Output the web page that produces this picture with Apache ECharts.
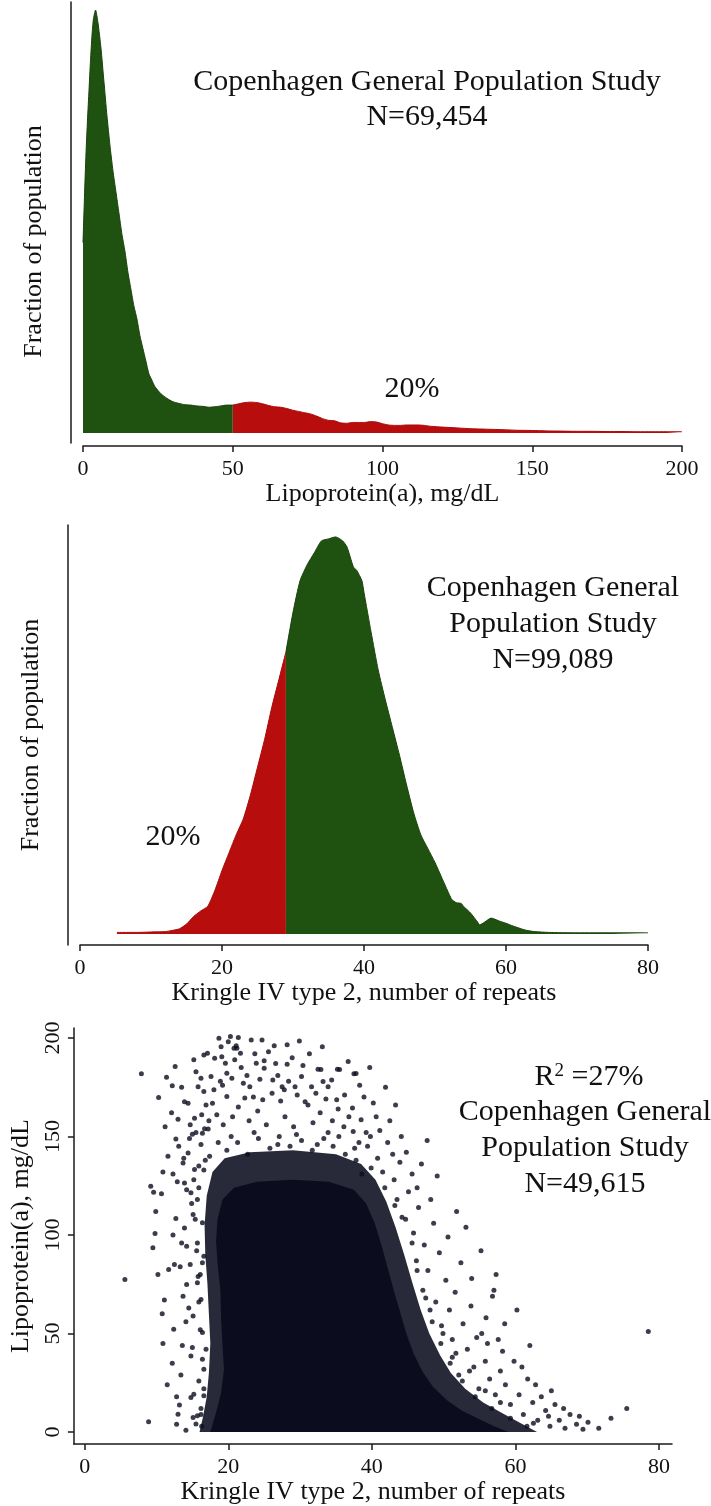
<!DOCTYPE html>
<html><head><meta charset="utf-8">
<script src="https://cdn.jsdelivr.net/npm/echarts@6/dist/echarts.min.js"></script>
<style>html,body{margin:0;padding:0;background:#fff}#c{width:711px;height:1506px}</style>
</head><body><div id="c"></div>
<script>
// ---------- Panel 1: Lp(a) distribution (relative density, peak = 100) ----------
const lpaBelow50 = [[0,45],[0.5,56],[1,66],[1.5,74],[2,81],[2.5,88],[3,94],[3.5,98],[4.2,100],[5,97],[6,91],[7,83],[8,75],[9,68],[10,62],[11,57],[12,52],[13,47],[14,43],[15,38],[16,34],[17,30],[18,27],[19,23],[20,20],[21,17],[22,14],[23,12.5],[24,11],[26,9.3],[28,8.2],[30,7.4],[32,7.0],[34,6.7],[36,6.6],[38,6.4],[40,6.3],[42,6.1],[44,6.2],[46,6.4],[48,6.6],[50,6.6]];
const lpaAbove50 = [[50,6.6],[52,6.9],[54,7.2],[56,7.3],[58,7.2],[60,6.9],[62,6.5],[64,6.2],[66,6.1],[68,5.8],[70,5.4],[72,5.1],[74,4.8],[76,4.5],[78,4.0],[80,3.4],[82,3.0],[84,2.9],[86,2.4],[88,2.3],[90,2.5],[92,2.5],[94,2.5],[96,2.7],[98,2.6],[100,2.2],[102,1.9],[104,1.8],[106,1.8],[108,1.9],[110,1.9],[112,1.9],[114,1.8],[116,1.6],[118,1.5],[120,1.4],[125,1.2],[130,1.0],[135,0.9],[140,0.8],[145,0.65],[150,0.6],[155,0.5],[160,0.45],[165,0.4],[170,0.4],[175,0.35],[180,0.35],[185,0.3],[190,0.3],[195,0.3],[200,0.3]];
const lpaTicks = [0,50,100,150,200];

// ---------- Panel 2: KIV-2 repeats distribution (relative density, peak = 100) ----------
const kivLow = [[5.2,0.4],[6,0.4],[8,0.4],[10,0.5],[12,0.6],[13,0.9],[14,1.3],[15,2.5],[16,4.4],[17,5.8],[18,7],[19,11],[20,16],[21,20.5],[22,25],[23,29],[24,35],[25,42],[26,49],[27,57],[28,64],[29,71]];
const kivHigh = [[29,71],[30,81],[31,89],[32,93],[33,96],[34,99],[35,99.5],[36,100],[37,99],[37.6,97.5],[38.5,92.5],[39,91.5],[39.7,89],[40,86],[41,76],[42,66.5],[43,59],[44,52],[45,45],[46,37.5],[47,30.5],[48,25],[49,21.5],[50,18],[51,14],[52,10],[52.4,8.6],[53,7.9],[53.7,7.7],[54,7],[55,5.3],[56,3],[56.3,2.3],[57,3],[57.9,4],[59,3.3],[60,2.7],[61,2],[62,1.4],[62.7,1],[64,0.6],[66,0.4],[70,0.3],[75,0.3],[80,0.3]];
const kivTicks = [0,20,40,60,80];

// ---------- Panel 3: scatter KIV-2 repeats vs Lp(a) (mg/dL) ----------
const scatterTicksX = [0,20,40,60,80];
const scatterTicksY = [0,50,100,150,200];
// outlines (repeats, mg/dL) of the regions where points merge into ink
const solidRegion = [[17.5,0],[59,0],[57,3],[55,6.5],[52.5,11],[50.5,16],[48.5,23],[47,31],[45.8,40],[44.8,50],[44,60],[43.2,70],[42.3,82],[41.4,94],[40.4,106],[39.2,116],[37.5,123],[34,127],[29,128],[24,127],[20.8,124],[19.2,118],[18.5,108],[18.3,97],[18.5,86],[18.9,72],[19,58],[19.2,44],[19.4,32],[19,20],[18.3,10]];
const speckledRegion = [[16,0],[63,0],[61,4],[58.5,9],[55.5,15],[53,22],[51,30],[49.5,39],[48,50],[46.8,62],[45.7,75],[44.5,90],[43.3,104],[42,117],[40.5,128],[38.5,136],[35,141],[29,143],[23,142],[19.5,139],[17.8,132],[17,120],[16.7,105],[16.8,90],[17.1,75],[17.3,60],[17.5,45],[17.3,30],[17,18],[16.5,8]];
// individually visible points (repeats, mg/dL)
const sparsePoints = [[5.6,77.5],[8.9,5.2],[9.2,124.7],[9.6,121.7],[9.9,112],[9.8,100.8],[9.5,93.5],[10.7,121],[10.8,60.1],[11.7,82.5],[12.5,85],[12.4,52.2],[12.7,108.4],[13,9.1],[13.2,13.8],[13.3,83.9],
[13.7,136.5],[13.9,126.4],[14.8,121.4],[15.1,110.4],[13.9,103.6],[14.2,94.3],[14.2,74.9],[13.7,69],[15.1,58.9],[14.8,38.6],[15,42.9],[16.6,31.9],[15.2,19.2],[14.8,17.6],[16.6,18.4],[15.1,7.4],[15.5,4.1],[15.7,8.3],[16.4,50.5],[16.9,42],[16.2,67.3],[15.7,75.8],[16.6,89.3],[16.4,85.9],[15.7,96],[14.2,123],[15.3,133.2],[14.4,141.6],[15.7,118],[16.4,106.2],
[11.5,24],[12.2,35],[12.8,18],[13.6,44],[13.4,29],[14.1,56],[14.5,63],[14.7,85],[13.5,96],[12.3,100],[15.9,26],[16.2,12],[16.1,80],[16.3,3],[14.1,1],[12.8,4],[11.1,67],[10.2,80],[10.9,45],[14.9,116],
[16.2,9],[16.6,22],[16.4,37],[16.1,52],[15.9,66],[15.8,79],[15.6,92],[15.4,108],[15.9,124],[16.6,133],
[7.9,181.8],[10.3,169.8],[11.4,180.1],[12.2,175.7],[12.6,185.5],[12.7,148.7],[13,158.8],[13.5,175],[13.9,167.7],[14.4,166.9],[15,151.2],[15.2,188.9],[15.3,159.3],[15.5,182.9],[15.8,175.3],[16.2,179.6],[16.3,161],[16.4,151.7],[16.6,191.4],[17.1,192.2],[17.2,153.8],[17.6,180.4],[18,173.7],[17.8,166.9],[18.1,189.7],[18.7,199.9],[19,195.6],[19.1,190.5],[19.6,187.2],[19.8,182.1],[20,198.1],[20.3,200.7],[20.5,179.6],[20.8,194.8],[21.2,194.8],[21.4,200.3],[21.7,192.2],[22.1,177],[23,175.3],[23.2,199],[23.9,187.2],[25,188.5],[25,184.6],[28.2,196.5],[28.2,186.7],[32.5,184.1],[35.2,184.1],[37.5,181.8],[30.2,180.4],[26.2,178.7],[27.5,175.3],[29.3,175.3],[31.6,175.3],[33.9,175.3],[33.2,177.9],[27.8,173.7],[24.8,168.6],[22.3,169.5],[19.8,170.3],[16.6,172.8],
[19.2,176],[21.8,185],[22.6,181],[23.7,192],[24.4,179],[25.6,193],[26.1,172],[26.9,181],[27.3,168],[28.9,190],[29.6,171],[30.4,186],[31.1,166],[32.2,172],[32.8,162],[33.6,169],[34.5,158],[35.3,164],[36.2,171],[36.8,160],[37.3,164.5],[38.5,158.5],[37.4,152.6],[35.1,168.6],[34.4,178.7],[30.7,167.7],[39.7,185],[41.9,175],[37.8,182],[35.5,184],[32.9,184],[24.1,163],[22.9,158],[21.4,165],[20.6,160],[19.3,156],[18.4,161],[17.3,158],[25.3,156],[27.9,160],[29.1,155],[31.8,157],[33.9,152],[36.1,155],[39.2,152],[40.6,160],[38.9,170],[26.6,187],[20.9,189],[18.9,178],[23.5,170],[28.4,178],[31.3,192],[16.9,166],[14.7,156],[12.1,162],[11.2,155],[21.1,196],[24.7,199],[26.4,196],[29.9,198.5],[33.1,195.5],[36.7,188],[38.3,176],[40.2,167],[42.5,158],[44.1,150],[43.3,166],
[19.8,143],[21.3,147],[22.7,141],[24.2,149],[25.8,144],[27.1,150],[28.6,145],[30.2,148],[31.7,143],[33.3,149],[34.6,145],[36.3,141],[37.6,144],[20.4,150],[23.6,152],[26.9,146],[29.5,151],[32.4,146],[35.4,150],[18.6,147],
[12.3,131],[13.1,145],[13.8,139],[14.6,149],[15.2,128],[15.9,135],[16.2,146],[16.8,138],[17.4,140],[15.5,152],[12.9,127],[11.6,140],[10.9,132],[16.7,154],
[37.8,138],[38.6,131],[39.4,145],[40.8,139],[41.5,132],[42.2,147],[43.1,128],[43.9,137],[44.8,142],[45.6,131],[39.8,150],[41.1,153],[42.9,141],[38.2,147],[46.3,124],
[43.5,118],[44.2,109],[45.1,122],[45.8,101],[46.5,114],[47.3,95],[46.2,87],[47.8,82],[48.6,106],[49.4,91],[50.3,77],[47.1,72],[48.9,66],[50.8,62],[51.6,71],[52.7,55],[49.7,54],[53.8,64],[54.6,48],[51.2,47],[55.9,58],[48.2,118],[50.6,99],[52.4,86],[53.9,78],[56.8,69],[58.5,55],[49.1,130],[46.9,136],[51.8,112],[55.2,92],[57.3,80],[47.7,148],[60.2,62],[53.1,104],
[44.7,108],[45.6,96],[46.3,82],[47.5,68],[48.4,56],[49.6,45],[50.9,35],[52.6,26],[54.4,18],[56.7,12],[59.3,7],[61.6,3],[43.2,115],[41.8,124],[39.9,134],[48.1,62],[49.9,50],[51.7,40],[53.6,31],[55.8,21],[57.9,15],
[51.2,38],[52.1,29],[53.3,42],[54.2,33],[54.9,22],[55.8,36],[56.4,27],[57.2,19],[57.9,31],[58.6,24],[59.3,14],[59.8,36],[60.5,19],[61.1,9],[61.7,27],[62.4,15],[63.1,6],[63.6,18],[64.2,11],[64.8,3],[65.5,14],[66.1,6],[66.9,2],[67.6,9],[68.5,4],[69.4,1.5],[70.1,5],[56.1,45],[58.2,41],[60.9,33],[62.8,24],[65,21],[62.5,4.5],[64.6,8],[66.7,12],[68.9,8],[71.6,2],[73.3,7],[55.3,50],[57.6,47],
[75.5,12],[78.5,51],[62,44],[57,72]];

const FONT = "'Liberation Serif','Times New Roman',Times,serif";
const INK = '#0b0d1e';
const LINE = {color:'#1a1a1a', width:1.5};

const chart = echarts.init(document.getElementById('c'), null, {renderer:'canvas'});

function xAxisBase(extra){
  return Object.assign({
    type:'value', nameLocation:'middle', nameGap:34,
    nameTextStyle:{fontFamily:FONT, fontSize:26, color:'#111'},
    axisLine:{show:true, onZero:false, lineStyle:LINE},
    axisTick:{show:true, length:6, lineStyle:LINE},
    axisLabel:{fontFamily:FONT, fontSize:22, color:'#111', margin:12},
    splitLine:{show:false}
  }, extra);
}
function yAxisBase(extra){
  return Object.assign({
    type:'value', nameLocation:'middle', nameGap:24,
    nameTextStyle:{fontFamily:FONT, fontSize:26, color:'#111'},
    axisLine:{show:true, onZero:false, lineStyle:LINE},
    axisTick:{show:false}, axisLabel:{show:false}, splitLine:{show:false}
  }, extra);
}
function regionSeries(outline, opacity, z){
  return {type:'custom', xAxisIndex:2, yAxisIndex:2, data:[[0,0]], silent:true, z:z,
    renderItem:function(params, api){
      const pts = outline.map(function(p){return api.coord(p);});
      return {type:'polygon', shape:{points:pts},
        style:{fill:INK, opacity:opacity, lineWidth:0}};
    }};
}

const option = {
  animation:false,
  backgroundColor:'#ffffff',
  grid:[
    {left:83, width:599, top:2, height:441},
    {left:80, width:568, top:525, height:420},
    {left:60, width:612, top:1028, height:417}
  ],
  xAxis:[
    xAxisBase({gridIndex:0, min:0, max:200, interval:50, offset:3, name:'Lipoprotein(a), mg/dL'}),
    xAxisBase({gridIndex:1, min:0, max:80, interval:20, name:'Kringle IV type 2, number of repeats'}),
    xAxisBase({gridIndex:2, min:-1.5, max:81.8, name:'Kringle IV type 2, number of repeats',
      axisTick:{show:true, length:6, lineStyle:LINE, customValues:scatterTicksX},
      axisLabel:{fontFamily:FONT, fontSize:22, color:'#111', margin:12, customValues:scatterTicksX}})
  ],
  yAxis:[
    yAxisBase({gridIndex:0, min:-2.36, max:101.9, offset:12, name:'Fraction of population', nameTextStyle:{fontFamily:FONT, fontSize:26, color:'#111', padding:[0,38,0,0]}}),
    yAxisBase({gridIndex:1, min:-2.77, max:103.0, offset:12, name:'Fraction of population'}),
    yAxisBase({gridIndex:2, min:-6.08, max:205.06, name:'Lipoprotein(a), mg/dL', nameGap:34,
      axisTick:{show:true, length:6, lineStyle:LINE, customValues:scatterTicksY},
      axisLabel:{show:true, rotate:90, fontFamily:FONT, fontSize:22, color:'#111', margin:10, customValues:scatterTicksY}})
  ],
  series:[
    {type:'line', xAxisIndex:0, yAxisIndex:0, data:lpaBelow50, showSymbol:false, smooth:0.2,
      lineStyle:{color:'#1a420c', width:1}, areaStyle:{color:'#1f5210', opacity:1}, z:3},
    {type:'line', xAxisIndex:0, yAxisIndex:0, data:lpaAbove50, showSymbol:false, smooth:0.2,
      lineStyle:{color:'#a80a0a', width:1}, areaStyle:{color:'#b80d0d', opacity:1}, z:2},
    {type:'line', xAxisIndex:1, yAxisIndex:1, data:kivLow, showSymbol:false, smooth:0.2,
      lineStyle:{color:'#a80a0a', width:1}, areaStyle:{color:'#b80d0d', opacity:1}, z:2},
    {type:'line', xAxisIndex:1, yAxisIndex:1, data:kivHigh, showSymbol:false, smooth:0.2,
      lineStyle:{color:'#1a420c', width:1}, areaStyle:{color:'#1f5210', opacity:1}, z:3},
    regionSeries(speckledRegion, 0.88, 1),
    regionSeries(solidRegion, 1, 2),
    {type:'scatter', xAxisIndex:2, yAxisIndex:2, data:sparsePoints, symbolSize:5,
      itemStyle:{color:INK}, z:4, silent:true}
  ],
  graphic:[
    {type:'text', x:427, y:100, style:{text:'Copenhagen General Population Study\nN=69,454', font:'30px '+FONT, fill:'#111', align:'center', verticalAlign:'middle', lineHeight:35}},
    {type:'text', x:412, y:389, style:{text:'20%', font:'30px '+FONT, fill:'#111', align:'center', verticalAlign:'middle'}},
    {type:'text', x:553, y:624, style:{text:'Copenhagen General\nPopulation Study\nN=99,089', font:'30px '+FONT, fill:'#111', align:'center', verticalAlign:'middle', lineHeight:36}},
    {type:'text', x:173, y:837, style:{text:'20%', font:'30px '+FONT, fill:'#111', align:'center', verticalAlign:'middle'}},
    {type:'text', x:589, y:1077, style:{text:'{b|R}{s|2}{b| =27%}', align:'center', verticalAlign:'middle',
      rich:{b:{fontFamily:FONT, fontSize:30, fill:'#111'}, s:{fontFamily:FONT, fontSize:19, fill:'#111', verticalAlign:'top', padding:[0,0,10,0]}}}},
    {type:'text', x:585, y:1148, style:{text:'Copenhagen General\nPopulation Study\nN=49,615', font:'30px '+FONT, fill:'#111', align:'center', verticalAlign:'middle', lineHeight:36}}
  ]
};
chart.setOption(option);
</script></body></html>
